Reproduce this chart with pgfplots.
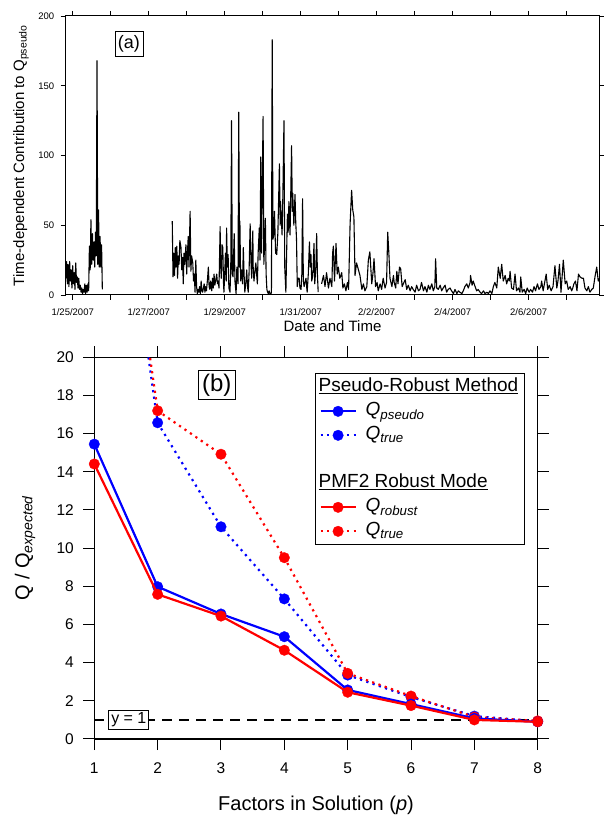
\documentclass[border=0pt]{standalone}
\usepackage{fontspec}
\setmainfont{Liberation Sans}
\usepackage{pgfplots}
\pgfplotsset{compat=1.18}
\usepackage{pgfplotstable}

\pgfplotstableread{
x y
24.82 12
24.84 24
24.86 8
24.88 22
24.90 6
24.92 24
24.94 10
24.96 18
24.98 5
25.00 21
25.02 8
25.04 16
25.06 4
25.08 23
25.10 9
25.12 13
25.14 5
25.16 12
25.18 4
25.20 7
25.22 2
25.24 5
25.26 1
25.28 4
25.30 2
25.32 8
25.34 1
25.36 7
25.38 2
25.40 8
25.42 3
25.44 35
25.46 18
25.48 54
25.50 22
25.52 44
25.54 25
25.56 38
25.58 20
25.60 45
25.62 28
25.64 168
25.66 22
25.68 61
25.70 20
25.72 42
25.74 20
25.76 36
25.78 4
25.90 nan
27.62 53
27.64 13
27.66 30
27.68 14
27.70 34
27.72 20
27.74 35
27.76 12
27.78 28
27.80 22
27.82 39
27.85 34
27.87 18
27.89 27
27.91 8
27.93 30
27.95 22
27.98 36
28.00 15
28.02 30
28.04 42
28.06 20
28.09 60
28.11 17
28.13 28
28.16 23
28.18 10
28.20 15
28.22 2
28.24 25
28.26 6
28.28 1
28.30 4
28.32 2
28.34 6
28.36 1
28.38 10
28.40 3
28.42 2
28.44 5
28.46 8
28.48 2
28.50 6
28.52 3
28.55 12
28.57 20
28.59 6
28.61 4
28.63 10
28.66 3
28.68 12
28.70 5
28.72 15
28.74 7
28.76 10
28.79 15
28.81 8
28.83 10
28.85 5
28.88 49
28.89 23
28.91 12
28.93 36
28.95 34
28.97 8
28.98 2
29.00 15
29.02 30
29.04 10
29.05 48
29.07 20
29.09 29
29.11 5
29.14 2
29.16 20
29.18 125
29.20 15
29.22 13
29.25 44
29.27 10
29.30 1
29.32 20
29.35 8
29.37 131
29.39 20
29.40 53
29.42 10
29.45 18
29.47 8
29.49 34
29.51 15
29.53 2
29.56 10
29.58 18
29.60 6
29.62 2
29.64 15
29.67 51
29.69 25
29.71 12
29.74 46
29.75 20
29.77 10
29.80 18
29.82 23
29.84 15
29.86 8
29.88 30
29.91 48
29.93 25
29.95 99
29.97 30
29.98 57
30.01 128
30.03 22
30.04 29
30.07 55
30.09 15
30.11 4
30.13 2
30.15 1
30.17 3
30.19 1
30.21 0
30.23 2
30.25 183
30.27 40
30.29 43
30.31 60
30.34 30
30.37 29
30.40 45
30.44 94
30.46 50
30.47 67
30.49 55
30.51 43
30.53 70
30.56 125
30.58 20
30.61 2
30.63 30
30.65 58
30.67 45
30.69 67
30.71 50
30.72 43
30.76 107
30.78 60
30.79 73
30.81 58
30.82 50
30.85 72
30.87 52
30.89 40
30.91 6
30.93 12
30.96 12
30.98 5
31.01 4
31.03 15
31.05 69
31.07 10
31.09 6
31.12 10
31.14 12
31.16 5
31.17 2
31.20 15
31.23 38
31.25 20
31.27 29
31.29 10
31.32 14
31.35 37
31.37 8
31.38 12
31.40 20
31.42 44
31.44 15
31.46 2
31.50 nan
31.55 8
31.60 14
31.64 6
31.68 16
31.73 5
31.77 12
31.82 6
31.84 30
31.86 35
31.89 10
31.93 37
31.96 15
31.99 20
32.03 12
32.08 16
32.11 5
32.15 8
32.19 3
32.23 9
32.26 4
32.30 51
32.34 75
32.37 61
32.40 56
32.43 14
32.47 23
32.52 18
32.56 14
32.61 4
32.65 8
32.69 3
32.74 6
32.78 25
32.82 31
32.87 8
32.90 15
32.93 26
32.97 6
33.01 9
33.04 3
33.09 8
33.13 4
33.17 12
33.22 5
33.26 9
33.29 45
33.32 30
33.35 12
33.40 6
33.44 14
33.46 9
33.50 5
33.53 17
33.56 8
33.60 20
33.63 19
33.67 6
33.70 8
33.75 11
33.79 4
33.83 7
33.88 3
33.92 6
33.96 4
34.01 2
34.05 7
34.10 3
34.14 4
34.18 9
34.23 3
34.27 6
34.32 2
34.36 7
34.40 4
34.45 8
34.49 3
34.53 6
34.55 26
34.58 5
34.62 4
34.67 7
34.71 3
34.75 5
34.80 7
34.84 2
34.88 4
34.93 5
34.97 3
35.02 1
35.06 4
35.11 1
35.15 3
35.19 2
35.24 1
35.28 3
35.32 6
35.37 8
35.41 5
35.46 9
35.47 14
35.51 7
35.54 10
35.59 6
35.63 3
35.67 4
35.72 2
35.76 1
35.81 3
35.85 1
35.90 2
35.94 1
35.98 3
36.03 1
36.07 6
36.11 9
36.16 5
36.20 20
36.25 12
36.29 22
36.33 10
36.38 14
36.42 8
36.46 12
36.49 10
36.51 17
36.55 5
36.60 4
36.64 15
36.68 3
36.73 5
36.77 2
36.79 13
36.83 2
36.88 4
36.92 1
36.96 5
37.01 2
37.05 4
37.10 2
37.14 6
37.18 3
37.23 8
37.27 4
37.32 6
37.34 10
37.38 3
37.46 15
37.50 4
37.54 7
37.59 3
37.64 6
37.69 21
37.74 5
37.77 10
37.81 22
37.85 2
37.91 25
37.96 8
38.00 10
38.04 4
38.09 6
38.13 3
38.16 5
38.19 8
38.23 10
38.27 3
38.31 15
38.35 13
38.40 12
38.44 12
38.48 5
38.53 3
38.57 6
38.61 2
38.66 4
38.70 5
38.75 14
38.79 20
38.83 10
38.86 12
}\qtable

\begin{document}
\begin{tikzpicture}
\useasboundingbox (0,0) rectangle (604pt,818pt);
% ---------------- panel (a)
\begin{axis}[
  at={(65.7pt,523pt)}, anchor=south west,
  scale only axis, width=533.6pt, height=279pt,
  xmin=24.816, xmax=38.858, ymin=0, ymax=200,
  xtick={25,...,38},
  xticklabels={{1/25/2007},{},{1/27/2007},{},{1/29/2007},{},{1/31/2007},{},{2/2/2007},{},{2/4/2007},{},{2/6/2007},{}},
  ytick={0,50,100,150,200},
  tick align=outside,
  major tick length=5pt,
  tick style={black, line width=0.8pt},
  axis line style={line width=1pt},
  ticklabel style={font=\fontsize{9.5}{11}\selectfont},
  xticklabel shift=5pt, yticklabel shift=3pt,
  /pgf/number format/assume math mode=true,
  xlabel={Date and Time},
  ylabel={Time-dependent Contribution to Q\textsubscript{pseudo}},
  label style={font=\fontsize{15}{18}\selectfont},
  xlabel style={at={(axis description cs:0.5,-0.111)}, anchor=center},
  ylabel style={at={(axis description cs:-0.0838,0.5)}, anchor=center},
  unbounded coords=jump,
]
\addplot[black, line width=1.1pt, line join=round] table[x=x,y=y] {\qtable};
\node[draw=black, line width=0.8pt, fill=white, inner xsep=3pt, inner ysep=4pt,
  font=\fontsize{18}{21}\selectfont] at (rel axis cs:0.1186,0.8996) {(a)};
\end{axis}
% ---------------- panel (b)
\begin{axis}[
  at={(94.3pt,79pt)}, anchor=south west,
  scale only axis, width=443.4pt, height=381.7pt,
  xmin=1, xmax=8, ymin=0, ymax=20,
  xtick={1,...,8}, ytick={0,2,...,20},
  tick align=outside,
  major tick length=11pt,
  tick style={black, line width=1pt},
  axis line style={line width=1.2pt},
  ticklabel style={font=\fontsize{15.5}{18}\selectfont},
  xticklabel shift=9pt, yticklabel shift=6pt,
  /pgf/number format/assume math mode=true,
  xlabel={Factors in Solution (\textit{p})},
  ylabel={Q / Q\textsubscript{\textit{expected}}},
  label style={font=\fontsize{20}{24}\selectfont},
  xlabel style={at={(axis description cs:0.5,-0.173)}, anchor=center},
  ylabel style={at={(axis description cs:-0.156,0.5)}, anchor=center},
  clip mode=individual,
  legend style={at={(axis description cs:0.4977,0.958)}, anchor=north west,
    draw=black, line width=1pt, font=\fontsize{19}{22}\selectfont,
    inner xsep=4pt, inner ysep=4pt, row sep=5pt, column sep=7pt,
    nodes={inner ysep=0pt, text height=14pt, text depth=5pt},
    cells={anchor=west}},
  legend cell align=left,
  legend image code/.code={\draw[mark repeat=2,mark phase=2,#1] plot coordinates {(0pt,0pt) (17.5pt,0pt) (35pt,0pt)};},
  solidser/.style={line width=2.2pt, mark=*, mark size=5.3pt, mark options={solid, line width=0.3pt}},
  dotser/.style={line width=2.2pt, dash pattern=on 2.2pt off 4.4pt, mark=*, mark size=5.3pt, mark options={solid, line width=0.3pt}},
]
\addplot[black, line width=2pt, dash pattern=on 10pt off 7pt, forget plot] coordinates {(1,1) (8,1)};
\addplot[blue, dotser, forget plot] coordinates {(1,40.2) (2,16.57) (3,11.12) (4,7.34) (5,3.35) (6,2.2) (7,1.2) (8,0.92)};
\addplot[red, dotser, forget plot] coordinates {(1,40.5) (2,17.2) (3,14.92) (4,9.5) (5,3.44) (6,2.25) (7,1.15) (8,0.95)};
\addplot[blue, solidser, forget plot] coordinates {(1,15.45) (2,7.98) (3,6.55) (4,5.36) (5,2.57) (6,1.83) (7,1.08) (8,0.9)};
\addplot[red, solidser, forget plot] coordinates {(1,14.41) (2,7.58) (3,6.44) (4,4.65) (5,2.45) (6,1.75) (7,1.0) (8,0.9)};
\node[draw=black, line width=0.8pt, fill=white, inner sep=2.5pt,
  font=\fontsize{16}{19}\selectfont] at (axis cs:1.545,1) {y = 1};
\node[draw=black, line width=0.8pt, fill=white, inner xsep=4pt, inner ysep=3.5pt,
  font=\fontsize{24}{28}\selectfont] at (rel axis cs:0.276,0.9274) {(b)};
\addlegendimage{empty legend}
\addlegendentry{\hspace*{-47pt}\underline{Pseudo-Robust Method}}
\addlegendimage{blue, solidser}
\addlegendentry{\textit{Q}\textsubscript{\textit{pseudo}}}
\addlegendimage{blue, dotser}
\addlegendentry{\textit{Q}\textsubscript{\textit{true}}}
\addlegendimage{empty legend}
\addlegendentry{}
\addlegendimage{empty legend}
\addlegendentry{\hspace*{-47pt}\underline{PMF2 Robust Mode}}
\addlegendimage{red, solidser}
\addlegendentry{\textit{Q}\textsubscript{\textit{robust}}}
\addlegendimage{red, dotser}
\addlegendentry{\textit{Q}\textsubscript{\textit{true}}}
\end{axis}
\end{tikzpicture}
\end{document}
